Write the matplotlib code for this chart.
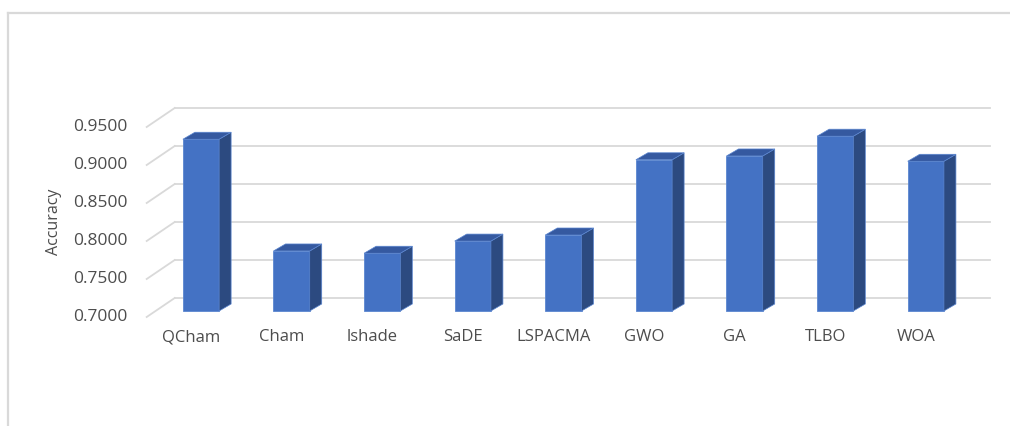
import matplotlib
matplotlib.use("Agg")
import matplotlib.pyplot as plt
from matplotlib.transforms import Affine2D
from matplotlib.patches import Polygon
from matplotlib.lines import Line2D

# ---- data ----
categories = ["QCham", "Cham", "lshade", "SaDE", "LSPACMA", "GWO", "GA", "TLBO", "WOA"]
accuracy = [0.926, 0.779, 0.776, 0.792, 0.800, 0.899, 0.904, 0.930, 0.897]
y_ticks = [0.70, 0.75, 0.80, 0.85, 0.90, 0.95]
y_label = "Accuracy"

# ---- style ----
FRONT = "#4472C4"
SIDE = "#2C4A80"
TOP = "#3559A0"
EDGE = "#5B86D0"
GRID = "#D9D9D9"
TEXT = "#4D4D4D"
FONT = "Open Sans"
BAR_W = 0.4
DEPTH = (12, 7)          # px offset of bar depth
BACK = (19, 13)          # px offset of back wall from bar plane
FRONTF = (-9, -6)        # px offset of floor front edge from bar plane

W, H, DPI = 1010, 426, 100
fig = plt.figure(figsize=(W / DPI, H / DPI), dpi=DPI)
ax = fig.add_axes([155.7 / W, (H - 311) / H, 815.4 / W, 190 / H])
ax.set_xlim(-0.5, len(categories) - 0.5)
ax.set_ylim(y_ticks[0], y_ticks[-1])
ax.axis("off")

def off(dx, dy):
    return ax.transData + Affine2D().translate(dx, dy)

base = y_ticks[0]
xmin, xmax = -0.5, len(categories) - 0.5

# gridlines (side wall diagonal + back wall)
for v in y_ticks:
    ax.plot([xmin, xmax], [v, v], color=GRID, lw=1.3, transform=off(*BACK),
            clip_on=False, zorder=1)
    p_front = off(*FRONTF).transform((xmin, v))
    p_back = off(*BACK).transform((xmin, v))
    fig.add_artist(Line2D([p_front[0] / W, p_back[0] / W], [p_front[1] / H, p_back[1] / H],
                          transform=fig.transFigure, color=GRID, lw=1.3, zorder=1))

# bars
x = list(range(len(categories)))
bars = ax.bar(x, [a - base for a in accuracy], bottom=base, width=BAR_W, color=FRONT,
              edgecolor=EDGE, linewidth=0.6, zorder=4, clip_on=False)

dx, dy = DEPTH
for xi, v in zip(x, accuracy):
    l, r = xi - BAR_W / 2, xi + BAR_W / 2
    tr_d = ax.transData
    p1 = tr_d.transform((r, base)); p2 = tr_d.transform((r, v))
    side = [p1, p2, (p2[0] + dx, p2[1] + dy), (p1[0] + dx, p1[1] + dy)]
    q1 = tr_d.transform((l, v)); q2 = tr_d.transform((r, v))
    top = [q1, q2, (q2[0] + dx, q2[1] + dy), (q1[0] + dx, q1[1] + dy)]
    for pts, col in ((side, SIDE), (top, TOP)):
        fpts = [(px / W, py / H) for px, py in pts]
        fig.add_artist(Polygon(fpts, closed=True, transform=fig.transFigure,
                               facecolor=col, edgecolor=EDGE, linewidth=0.5, zorder=3))

# y tick labels
for v in y_ticks:
    ax.text(xmin, v, f"{v:.4f}", transform=off(-28, -6), ha="right", va="center",
            fontsize=12.5, color=TEXT, family=FONT, clip_on=False)

# category labels
for xi, c in zip(x, categories):
    ax.text(xi, base, c, transform=off(-10, -26), ha="center", va="center",
            fontsize=12, color=TEXT, family=FONT, clip_on=False)

fig.text(54 / W, 1 - 222 / H, y_label, rotation=90, ha="center", va="center",
         fontsize=11.5, color=TEXT, family=FONT)

# chart frame (top and left border)
fig.add_artist(Line2D([7.5 / W, 1.0], [1 - 12.7 / H, 1 - 12.7 / H], transform=fig.transFigure,
                      color=GRID, lw=1.6))
fig.add_artist(Line2D([7.5 / W, 7.5 / W], [0, 1 - 12.7 / H], transform=fig.transFigure,
                      color=GRID, lw=1.6))

fig.savefig("out.png", dpi=DPI, facecolor="white")
